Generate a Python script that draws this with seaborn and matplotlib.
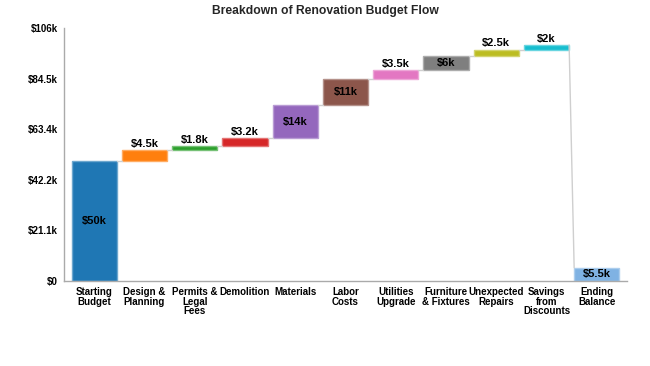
import matplotlib
matplotlib.use("Agg")
import matplotlib.pyplot as plt
import matplotlib.colors as mcolors
import seaborn as sns
import numpy as np

categories = ["Starting\nBudget", "Design &\nPlanning", "Permits &\nLegal\nFees", "Demolition",
              "Materials", "Labor\nCosts", "Utilities\nUpgrade", "Furniture\n& Fixtures",
              "Unexpected\nRepairs", "Savings\nfrom\nDiscounts", "Ending\nBalance"]
amounts = [50, 4.5, 1.8, 3.2, 14, 11, 3.5, 6, 2.5, 2, 5.5]   # in $k
is_total = [True, False, False, False, False, False, False, False, False, False, True]
labels = ["$50k", "$4.5k", "$1.8k", "$3.2k", "$14k", "$11k", "$3.5k", "$6k", "$2.5k", "$2k", "$5.5k"]
colors = ["#1f77b4", "#ff7f0e", "#2ca02c", "#d62728", "#9467bd", "#8c564b",
          "#e377c2", "#7f7f7f", "#bcbd22", "#17becf", "#7fb2e3"]
ytick_vals = [0, 21.12, 42.24, 63.36, 84.48, 105.6]
ytick_labels = ["$0", "$21.1k", "$42.2k", "$63.4k", "$84.5k", "$106k"]

# compute bottoms
bottoms = []
running = 0.0
for a, t in zip(amounts, is_total):
    if t:
        bottoms.append(0.0)
        running = a if len(bottoms) == 1 else running
    else:
        bottoms.append(running)
        running += a

sns.set_theme(style="white")
plt.rcParams["font.family"] = ["Liberation Sans", "DejaVu Sans"]
plt.rcParams["font.weight"] = "bold"

fig = plt.figure(figsize=(6.5, 3.66), dpi=100)
ax = fig.add_axes([0.0985, 0.2322, 0.866, 0.6913])

xs = list(range(len(categories)))
sns.barplot(x=xs, y=amounts, hue=xs, palette=colors, legend=False, ax=ax,
            width=0.9, saturation=1)

def lighten(c, f=0.35):
    r, g, b = mcolors.to_rgb(c)
    return (r + (1 - r) * f, g + (1 - g) * f, b + (1 - b) * f)

for i, p in enumerate(ax.patches[:len(amounts)]):
    p.set_y(bottoms[i])
    p.set_edgecolor(lighten(colors[i]))
    p.set_linewidth(1)

# connectors
for i in range(len(amounts) - 1):
    top_i = bottoms[i] + amounts[i]
    if is_total[i + 1]:
        end = bottoms[i + 1] + amounts[i + 1]
    else:
        end = bottoms[i + 1]
    ax.plot([i + 0.45, i + 1 - 0.45], [top_i, end], color="#cfcfcf", lw=1, zorder=1)

# labels
for i in range(len(amounts)):
    if amounts[i] >= 5:
        ax.text(i, bottoms[i] + amounts[i] / 2, labels[i], ha="center", va="center",
                fontsize=8, fontweight="bold", color="black")
    else:
        ax.text(i, bottoms[i] + amounts[i] + 0.6, labels[i], ha="center", va="bottom",
                fontsize=8, fontweight="bold", color="black")

ax.set_xlim(-0.6, len(categories) - 0.4)
ax.set_ylim(0, 105.6)
ax.set_yticks(ytick_vals)
ax.set_yticklabels(ytick_labels)
ax.set_xticks(xs)
ax.set_xticklabels(categories, linespacing=0.95)
ax.tick_params(axis="both", labelsize=7, colors="#333333", length=3, width=0.8,
               direction="out", pad=1.5)
ax.tick_params(axis="both", color="#aaaaaa")
for lbl in ax.get_xticklabels() + ax.get_yticklabels():
    lbl.set_fontweight("bold")
    lbl.set_color("black")
ax.set_xlabel("")
ax.set_ylabel("")
for s in ["top", "right"]:
    ax.spines[s].set_visible(False)
for s in ["left", "bottom"]:
    ax.spines[s].set_color("#aaaaaa")
    ax.spines[s].set_linewidth(1)

fig.suptitle("Breakdown of Renovation Budget Flow", x=0.5, y=0.985,
             fontsize=8.7, fontweight="bold", va="top")

fig.savefig("out.png", dpi=100)
